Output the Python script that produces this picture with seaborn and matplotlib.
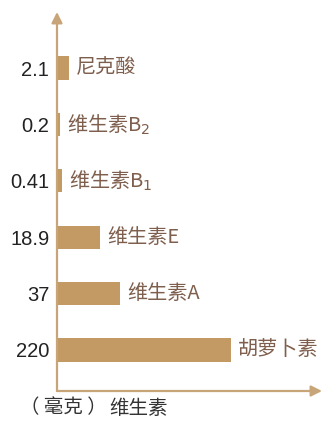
import numpy as np
import pandas as pd
import matplotlib
matplotlib.use("Agg")
import matplotlib.pyplot as plt
import seaborn as sns

# Vitamin content (mg), listed top to bottom
names = ["尼克酸", "维生素B$_2$", "维生素B$_1$", "维生素E", "维生素A", "胡萝卜素"]
values = [2.1, 0.2, 0.41, 18.9, 37, 220]
tick_labels = ["2.1", "0.2", "0.41", "18.9", "37", "220"]

df = pd.DataFrame({"name": names, "value": values})

sns.set_theme(style="white")
plt.rcParams["font.family"] = ["Noto Sans CJK SC", "DejaVu Sans"]
plt.rcParams["mathtext.fontset"] = "dejavusans"

BAR = "#C39A63"
AXIS = "#C8A578"
LABEL = "#7E5E4C"

W, H = 325, 426
fig = plt.figure(figsize=(W / 100, H / 100), dpi=100)
fig.patch.set_facecolor("white")

# axes box in pixels: left edge = y-axis, bottom edge = x-axis
x0, x1, yb, yt = 57, 322, 391, 12
ax = fig.add_axes([x0 / W, (H - yb) / H, (x1 - x0) / W, (yb - yt) / H])

# compressed power scale so small and large amounts both stay visible
p = 0.57
ax.set_xscale("function", functions=(lambda x: np.power(np.clip(x, 0, None), p),
                                     lambda x: np.power(np.clip(x, 0, None), 1 / p)))

sns.barplot(data=df, x="value", y="name", orient="h", color=BAR,
            width=0.41, saturation=1, edgecolor="none", ax=ax)

# horizontal extent: largest bar spans 174 px of the 265 px axis
span = (x1 - x0) / 174 * max(values) ** p
ax.set_xlim(0, span ** (1 / p))
ax.set_ylim(5.727, -0.993)

ax.set_yticks(range(len(names)))
ax.set_yticklabels(tick_labels, fontsize=14.5, color="#222222",
                   family=["Liberation Sans", "DejaVu Sans"])
ax.tick_params(axis="y", length=0, pad=5.5)
ax.set_xticks([])
ax.set_xlabel("")
ax.set_ylabel("")
for s in ax.spines.values():
    s.set_visible(False)

# bar end labels
for i, (n, v) in enumerate(zip(names, values)):
    ax.annotate(n, xy=(v, i), xytext=(5, 0), textcoords="offset points",
                ha="left", va="center", fontsize=14.5, color=LABEL)

# arrowed axes
arrow = dict(arrowstyle="-|>", color=AXIS, lw=1.6, mutation_scale=16,
             shrinkA=0, shrinkB=0)
ax.annotate("", xy=(0, 1), xytext=(0, 0), xycoords="axes fraction",
            textcoords="axes fraction", arrowprops=arrow, annotation_clip=False)
ax.annotate("", xy=(1, 0), xytext=(0, 0), xycoords="axes fraction",
            textcoords="axes fraction", arrowprops=arrow, annotation_clip=False)

# unit and category captions below the chart
fig.text(20 / W, 1 - 408 / H, "（ 毫克 ）", fontsize=14, color="#333333",
         ha="left", va="center")
fig.text(109 / W, 1 - 408 / H, "维生素", fontsize=14, color="#333333",
         ha="left", va="center")

fig.savefig("out.png", dpi=100, facecolor="white")
